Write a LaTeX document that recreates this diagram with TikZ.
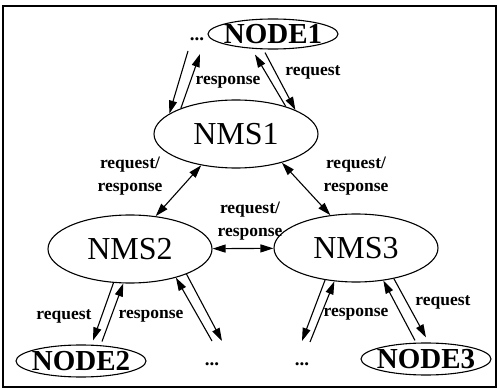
\documentclass[tikz,border=0pt]{standalone}
\usepackage{fontspec}
\setmainfont{Liberation Serif}
\usepackage{tikz}
\usetikzlibrary{arrows.meta,positioning,shapes.geometric}
\tikzset{
  nms/.style={draw, ellipse, line width=1.1pt, inner sep=0pt, minimum width=164pt, minimum height=68pt, font=\fontsize{32}{36}\selectfont},
  dev/.style={draw, ellipse, line width=1.1pt, inner ysep=0pt, inner xsep=-5pt, minimum width=130pt, minimum height=32pt, font=\fontsize{29}{32}\selectfont\bfseries},
  lbl/.style={align=center, inner sep=0pt, font=\fontsize{17.5}{22.5}\selectfont\bfseries},
  etc/.style={inner sep=0pt, font=\fontsize{19}{20}\selectfont\bfseries},
  arrow/.style={-{Triangle[length=13pt,width=8pt]}, line width=1.1pt},
  dblarrow/.style={{Triangle[length=13pt,width=8pt]}-{Triangle[length=13pt,width=8pt]}, line width=1.1pt},
  pageframe/.style={draw, line width=1.3pt}
}

\begin{document}
\begin{tikzpicture}[x=1pt, y=1pt, on grid]
  \useasboundingbox (0,0) rectangle (499,389);
  \draw[pageframe] (3,2) rectangle (496,383);

  \node[nms] (nms1) at (236,255) {NMS1};
  \node[nms, below left=115pt and 106pt of nms1] (nms2) {NMS2};
  \node[nms, below right=114pt and 120pt of nms1] (nms3) {NMS3};
  \node[dev, minimum height=30pt, above right=100pt and 37pt of nms1] (node1) {NODE1};
  \node[etc, below left=5pt and 76pt of node1] (dots1) {...};
  \node[dev, below left=112pt and 49pt of nms2] (node2) {NODE2};
  \node[etc, below right=115pt and 82pt of nms2] (dots2) {...};
  \node[etc, below left=116pt and 54pt of nms3] (dots3) {...};
  \node[dev, below right=111pt and 70pt of nms3] (node3) {NODE3};

  % labels
  \node[lbl, above left=52pt and 8pt of nms1] (resp1) {response};
  \node[lbl, above right=62pt and 77pt of nms1] (req1) {request};
  \node[lbl, below left=42pt and 106pt of nms1] (rr12) {request/\\response};
  \node[lbl, below right=42pt and 120pt of nms1] (rr13) {request/\\response};
  \node[lbl, above right=28pt and 120pt of nms2] (rr23) {request/\\response};
  \node[lbl, below left=67pt and 66pt of nms2] (req2) {request};
  \node[lbl, below right=67pt and 21pt of nms2] (resp2) {response};
  \node[lbl, below=66pt of nms3] (resp3) {response};
  \node[lbl, below right=54pt and 87pt of nms3] (req3) {request};

  % top
  \draw[arrow] ([xshift=-9pt,yshift=-12pt]dots1.center) -- (nms1.163);
  \draw[arrow] (nms1.155) -- ([xshift=3pt,yshift=-15pt]dots1.center);
  \draw[arrow] (nms1.29) -- ([xshift=-18pt,yshift=-5pt]node1.south);
  \draw[arrow] ([xshift=-8pt,yshift=-3pt]node1.south) -- (nms1.22);

  % between the managers
  \draw[dblarrow] (nms2.52) -- (nms1.222);
  \draw[dblarrow] (nms1.328) -- (nms3.128);
  \draw[dblarrow] (nms2) -- (nms3);

  % bottom left
  \draw[arrow] (nms2.244) -- ([xshift=12pt,yshift=4pt]node2.north);
  \draw[arrow] ([xshift=21pt,yshift=3pt]node2.north) -- (nms2.259);
  \draw[arrow] ([yshift=23pt]dots2.center) -- (nms2.328);
  \draw[arrow] (nms2.336) -- ([xshift=10pt,yshift=23pt]dots2.center);

  % bottom right
  \draw[arrow] (nms3.226) -- ([yshift=23pt]dots3.center);
  \draw[arrow] ([xshift=8pt,yshift=22pt]dots3.center) -- (nms3.237);
  \draw[arrow] ([xshift=-11pt,yshift=2pt]node3.north) -- (nms3.310);
  \draw[arrow] (nms3.321) -- ([yshift=5pt]node3.north);
\end{tikzpicture}
\end{document}
